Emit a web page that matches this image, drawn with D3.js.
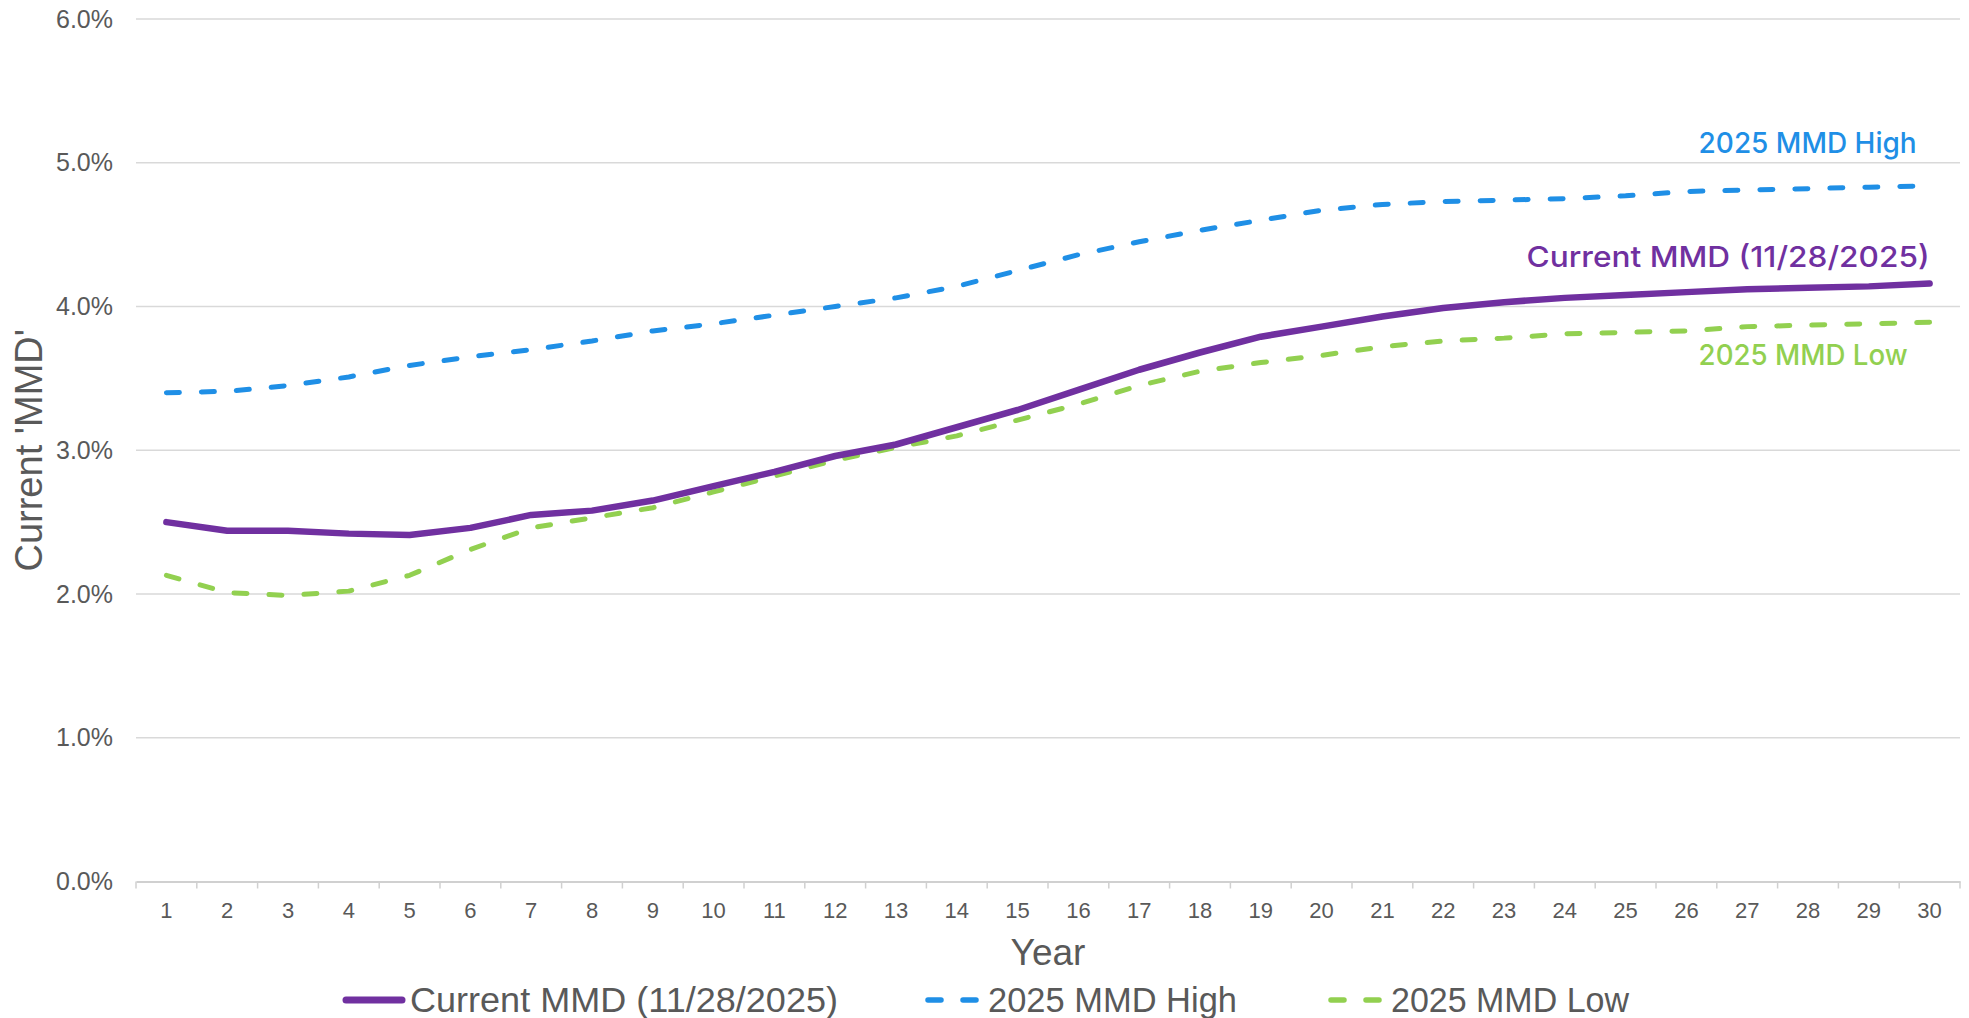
<!DOCTYPE html>
<html>
<head>
<meta charset="utf-8">
<script src="https://cdn.jsdelivr.net/npm/d3@7"></script>
<style>
  html, body { margin: 0; padding: 0; background: #fff; }
  svg { display: block; }
</style>
</head>
<body>
<svg id="chart" width="1969" height="1018"></svg>
<script>
// Municipal Market Data yield curve, maturities 1-30 years
const years = d3.range(1, 31);
const currentMMD = [2.50, 2.44, 2.44, 2.42, 2.41, 2.46, 2.55, 2.58, 2.65, 2.75,
                    2.85, 2.96, 3.04, 3.16, 3.28, 3.42, 3.56, 3.68, 3.79, 3.86,
                    3.93, 3.99, 4.03, 4.06, 4.08, 4.10, 4.12, 4.13, 4.14, 4.16];
const mmdHigh2025 = [3.40, 3.41, 3.45, 3.51, 3.59, 3.65, 3.70, 3.76, 3.83, 3.88,
                     3.94, 4.00, 4.06, 4.14, 4.25, 4.36, 4.45, 4.53, 4.60, 4.67,
                     4.71, 4.73, 4.74, 4.75, 4.77, 4.80, 4.81, 4.82, 4.83, 4.84];
const mmdLow2025 = [2.13, 2.01, 1.99, 2.02, 2.13, 2.31, 2.46, 2.53, 2.60, 2.71,
                    2.82, 2.93, 3.02, 3.10, 3.21, 3.32, 3.45, 3.55, 3.61, 3.66,
                    3.72, 3.76, 3.78, 3.81, 3.82, 3.83, 3.86, 3.87, 3.88, 3.89];
const yTicks = [0, 1, 2, 3, 4, 5, 6];
const seriesNames = ["Current MMD (11/28/2025)", "2025 MMD High", "2025 MMD Low"];

const svg = d3.select("#chart");
const plot = { left: 136, right: 1960, top: 19, bottom: 881.5 };

const x = d3.scaleBand().domain(years).range([plot.left, plot.right]).padding(0);
const cx = d => x(d) + x.bandwidth() / 2;
const y = d3.scaleLinear().domain([0, 6]).range([plot.bottom, plot.top]);

const AXIS_FONT = "'Liberation Sans', Arial, sans-serif";
const LABEL_FONT = "Inter, 'Open Sans', sans-serif";
const GREY_TEXT = "#595959";

const series = [
  { name: seriesNames[0], values: currentMMD, color: "#7030A0", width: 6.5, dash: null },
  { name: seriesNames[1], values: mmdHigh2025, color: "#1F8FE6", width: 5, dash: "13 22" },
  { name: seriesNames[2], values: mmdLow2025, color: "#92D050", width: 5, dash: "13 22" }
];

// horizontal gridlines
svg.append("g").selectAll("line")
  .data(yTicks.filter(d => d > 0))
  .join("line")
  .attr("x1", plot.left).attr("x2", plot.right)
  .attr("y1", d => y(d)).attr("y2", d => y(d))
  .attr("stroke", "#D9D9D9").attr("stroke-width", 1.5);

// y axis labels
const yAxis = d3.axisLeft(y).tickValues(yTicks).tickSize(0).tickPadding(23)
  .tickFormat(d => d.toFixed(1) + "%");
const gy = svg.append("g").attr("transform", `translate(${plot.left},0)`).call(yAxis);
gy.select(".domain").remove();
gy.selectAll("text").attr("font-family", AXIS_FONT).attr("font-size", 25).attr("fill", GREY_TEXT);

// x axis: baseline, category boundary ticks, labels
const xAxis = d3.axisBottom(x).tickSize(0).tickPadding(21);
const gx = svg.append("g").attr("transform", `translate(0,${plot.bottom})`).call(xAxis);
gx.select(".domain").attr("stroke", "#D0D0D0").attr("stroke-width", 2);
gx.selectAll("text").attr("font-family", AXIS_FONT).attr("font-size", 22).attr("fill", GREY_TEXT);
gx.append("g").selectAll("line")
  .data(years.map(d => x(d)).concat([plot.right]))
  .join("line")
  .attr("x1", d => d).attr("x2", d => d)
  .attr("y1", 0).attr("y2", 7)
  .attr("stroke", "#D0D0D0").attr("stroke-width", 1.5);

// axis titles
svg.append("text")
  .attr("x", (plot.left + plot.right) / 2).attr("y", 965)
  .attr("text-anchor", "middle")
  .attr("font-family", AXIS_FONT).attr("font-size", 37).attr("fill", GREY_TEXT)
  .text("Year");
svg.append("text")
  .attr("transform", `translate(42,${(plot.top + plot.bottom) / 2}) rotate(-90)`)
  .attr("text-anchor", "middle")
  .attr("font-family", AXIS_FONT).attr("font-size", 38).attr("fill", GREY_TEXT)
  .text("Current 'MMD'");

// series lines (current drawn last so it sits on top)
const line = d3.line().x((d, i) => cx(years[i])).y(d => y(d)).curve(d3.curveLinear);
const drawOrder = [series[1], series[2], series[0]];
svg.append("g").selectAll("path")
  .data(drawOrder)
  .join("path")
  .attr("d", s => line(s.values))
  .attr("fill", "none")
  .attr("stroke", s => s.color)
  .attr("stroke-width", s => s.width)
  .attr("stroke-linecap", "round")
  .attr("stroke-linejoin", "round")
  .attr("stroke-dasharray", s => s.dash);

// in-chart series labels, placed relative to the 30-year values
const lastX = cx(years[years.length - 1]);
const labels = [
  { s: series[1], text: "2025 MMD High", x: lastX - 231, anchor: "start", dy: -33, len: 218 },
  { s: series[0], text: "Current MMD (11/28/2025)", x: lastX, anchor: "end", dy: -17, len: 403 },
  { s: series[2], text: "2025 MMD Low", x: lastX - 231, anchor: "start", dy: 43, len: 209 }
];
svg.append("g").selectAll("text")
  .data(labels)
  .join("text")
  .attr("x", d => d.x)
  .attr("y", d => y(d.s.values[d.s.values.length - 1]) + d.dy)
  .attr("text-anchor", d => d.anchor)
  .attr("font-family", LABEL_FONT).attr("font-size", 29).attr("font-weight", 500)
  .attr("fill", d => d.s.color)
  .attr("textLength", d => d.len).attr("lengthAdjust", "spacingAndGlyphs")
  .text(d => d.text);

// legend
const legendItems = [
  { s: series[0], x0: 343, len: 428 },
  { s: series[1], x0: 925, len: 249 },
  { s: series[2], x0: 1328, len: 238 }
];
const lg = svg.append("g").selectAll("g").data(legendItems).join("g")
  .attr("transform", d => `translate(${d.x0},1000)`);
lg.append("line")
  .attr("x1", 3).attr("x2", 59).attr("y1", 0).attr("y2", 0)
  .attr("stroke", d => d.s.color)
  .attr("stroke-width", d => d.s.dash ? 5.5 : 7)
  .attr("stroke-linecap", "round")
  .attr("stroke-dasharray", d => d.s.dash ? "13 22" : null);
lg.append("text")
  .attr("x", d => d.s.dash ? 63 : 67).attr("y", 12)
  .attr("font-family", AXIS_FONT).attr("font-size", 35).attr("fill", GREY_TEXT)
  .attr("textLength", d => d.len).attr("lengthAdjust", "spacingAndGlyphs")
  .text(d => d.s.name);
</script>
</body>
</html>
